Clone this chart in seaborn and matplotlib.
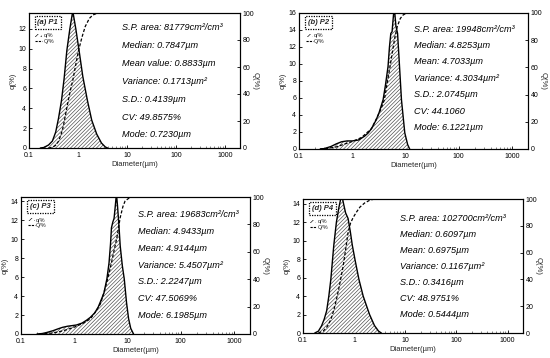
import matplotlib
matplotlib.use("Agg")
import matplotlib.pyplot as plt
import seaborn as sns
import pandas as pd
from matplotlib.patches import Patch
from matplotlib.lines import Line2D
from matplotlib.ticker import LogLocator, FixedLocator, FixedFormatter, NullFormatter

sns.set_theme(style="white")
plt.rcParams['font.family'] = ['Liberation Sans', 'DejaVu Sans']
plt.rcParams['hatch.linewidth'] = 0.45

# ---------------- data ----------------
panel_labels = ["(a) P1", "(b) P2", "(c) P3", "(d) P4"]

d_q_a = [0.17, 0.2, 0.25, 0.3, 0.35, 0.4, 0.46, 0.52, 0.59, 0.68, 0.78, 0.9, 1.05, 1.25, 1.55, 1.9, 2.4, 3.0, 3.6, 4.0]
q_a = [0, 0.05, 0.3, 0.7, 1.6, 3.0, 4.8, 7.0, 9.8, 12.0, 13.8, 12.0, 9.8, 7.2, 4.8, 2.8, 1.4, 0.5, 0.1, 0]
d_Q_a = [0.25, 0.3, 0.35, 0.4, 0.45, 0.5, 0.55, 0.63, 0.7, 0.78, 0.9, 1.02, 1.2, 1.4, 1.7, 2.0, 2.4, 3.0, 2000]
Q_a = [0, 0.5, 2, 5, 10, 16, 24, 35, 43, 50, 62, 72, 82, 90, 96, 98.5, 99.7, 100, 100]

d_q_b = [0.25, 0.3, 0.4, 0.5, 0.63, 0.8, 1.0, 1.3, 1.7, 2.0, 2.3, 2.8, 3.2, 3.55, 3.8, 4.2, 4.7, 5.0, 5.3, 5.6, 5.9, 6.1, 6.3, 6.6, 7.1, 7.6, 8.4, 9.7, 11, 12]
q_b = [0, 0.05, 0.3, 0.6, 0.85, 0.95, 0.95, 1.05, 1.5, 1.9, 2.4, 3.4, 4.3, 5.2, 5.8, 7.5, 9.7, 12.0, 13.6, 13.8, 15.5, 16.5, 16.0, 14.5, 13.6, 10.5, 5.8, 1.9, 0.5, 0]
d_Q_b = [0.25, 0.35, 0.5, 0.7, 1.0, 1.5, 2.3, 3.0, 3.5, 4.0, 4.6, 5.1, 5.6, 6.3, 7.0, 8.0, 9.0, 10.5, 2000]
Q_b = [0, 0.5, 1.5, 3.5, 5.5, 8.5, 15, 24, 30, 36, 50, 60, 70, 82, 90, 96, 98.5, 100, 100]

d_q_c = [0.2, 0.25, 0.3, 0.4, 0.5, 0.6, 0.75, 0.9, 1.1, 1.4, 1.7, 2.0, 2.4, 2.8, 3.1, 3.6, 4.1, 4.5, 4.8, 5.0, 5.3, 5.6, 5.9, 6.2, 6.5, 6.9, 7.3, 8.0, 8.7, 9.6, 10.5, 11.5, 13]
q_c = [0, 0.05, 0.15, 0.35, 0.55, 0.7, 0.82, 0.88, 0.95, 1.15, 1.45, 1.75, 2.2, 2.8, 3.4, 4.3, 5.8, 7.5, 9.5, 11.2, 11.8, 12.2, 13.5, 14.8, 13.5, 11.5, 9.3, 7.2, 5.8, 3.3, 1.6, 0.6, 0]
d_Q_c = [0.22, 0.35, 0.5, 0.7, 1.0, 1.5, 2.0, 2.5, 3.1, 3.6, 4.1, 4.6, 5.0, 5.6, 6.3, 7.3, 8.2, 9.0, 10.5, 12, 2000]
Q_c = [0, 0.5, 1.5, 3, 5, 8, 11, 16, 22, 30, 38, 46, 52, 61, 70, 85, 93, 97, 99, 100, 100]

d_q_d = [0.17, 0.2, 0.23, 0.26, 0.29, 0.32, 0.35, 0.4, 0.45, 0.5, 0.55, 0.58, 0.62, 0.68, 0.76, 0.84, 0.92, 1.05, 1.24, 1.5, 2.0, 2.5, 3.0, 3.4]
q_d = [0, 0.2, 0.76, 1.5, 2.4, 4.0, 5.8, 9.5, 12.0, 13.5, 14.6, 14.8, 14.0, 13.0, 12.4, 11.0, 9.5, 7.8, 5.8, 4.0, 2.0, 0.8, 0.2, 0]
d_Q_d = [0.2, 0.25, 0.3, 0.35, 0.4, 0.45, 0.5, 0.55, 0.61, 0.68, 0.76, 0.85, 0.95, 1.1, 1.3, 1.6, 2.0, 2.5, 2000]
Q_d = [0, 1.5, 5, 10, 17, 25, 33, 41, 50, 62, 75, 82, 86, 90, 94, 97, 99, 100, 100]

stats_a = ["S.P. area: 81779cm²/cm³", "Median: 0.7847µm", "Mean value: 0.8833µm",
           "Variance: 0.1713µm²", "S.D.: 0.4139µm", "CV: 49.8575%", "Mode: 0.7230µm"]
stats_b = ["S.P. area: 19948cm²/cm³", "Median: 4.8253µm", "Mean: 4.7033µm",
           "Variance: 4.3034µm²", "S.D.: 2.0745µm", "CV: 44.1060", "Mode: 6.1221µm"]
stats_c = ["S.P. area: 19683cm²/cm³", "Median: 4.9433µm", "Mean: 4.9144µm",
           "Variance: 5.4507µm²", "S.D.: 2.2247µm", "CV: 47.5069%", "Mode: 6.1985µm"]
stats_d = ["S.P. area: 102700cm²/cm³", "Median: 0.6097µm", "Mean: 0.6975µm",
           "Variance: 0.1167µm²", "S.D.: 0.3416µm", "CV: 48.9751%", "Mode: 0.5444µm"]

xticks = [0.1, 1, 10, 100, 1000]
xtick_labels = ["0.1", "1", "10", "100", "1000"]
ymax_left = [13.6, 16, 14.45, 14.5]
yticks_left = [list(range(0, 13, 2)), list(range(0, 17, 2)), list(range(0, 15, 2)), list(range(0, 15, 2))]
yticks_right = [0, 20, 40, 60, 80, 100]

# ---------------- layout ----------------
W, H = 550, 358
boxes = [(29, 13, 240, 148), (299, 13, 528, 149), (21, 197, 250, 334), (303, 199, 523, 333)]
text_pos = [(0.44, 0.889, 0.132), (0.502, 0.882, 0.121), (0.511, 0.869, 0.122), (0.44, 0.858, 0.12)]

panels = [(d_q_a, q_a, d_Q_a, Q_a, stats_a), (d_q_b, q_b, d_Q_b, Q_b, stats_b),
          (d_q_c, q_c, d_Q_c, Q_c, stats_c), (d_q_d, q_d, d_Q_d, Q_d, stats_d)]

HATCH = '/' * 9

fig = plt.figure(figsize=(5.5, 3.58), dpi=100)
tick_fs = 5
for i, (dq, qv, dQ, Qv, stats) in enumerate(panels):
    x0, y0, x1, y1 = boxes[i]
    ax = fig.add_axes([x0 / W, 1 - y1 / H, (x1 - x0) / W, (y1 - y0) / H])
    ax.set_xscale('log')
    dfq = pd.DataFrame({"d": dq, "q": qv})
    ax.fill_between(dfq["d"], 0, dfq["q"], facecolor='white', edgecolor='#444444',
                    hatch=HATCH, linewidth=0)
    sns.lineplot(data=dfq, x="d", y="q", ax=ax, color='black', lw=1.0,
                 estimator=None, sort=False)
    ax.set_xlim(0.1, 2000)
    ax.set_ylim(0, ymax_left[i])
    ax.set_yticks(yticks_left[i])
    ax.xaxis.set_major_locator(FixedLocator(xticks))
    ax.xaxis.set_major_formatter(FixedFormatter(xtick_labels))
    ax.xaxis.set_minor_locator(LogLocator(base=10, subs=range(2, 10), numticks=20))
    ax.xaxis.set_minor_formatter(NullFormatter())
    ax.tick_params(axis='y', which='major', direction='in', length=2.5, width=0.6,
                   labelsize=tick_fs, pad=2, colors='black', left=True)
    ax.tick_params(axis='x', which='major', direction='in', length=2.5, width=0.6,
                   labelsize=tick_fs, pad=3, colors='black', bottom=True)
    ax.tick_params(axis='x', which='minor', direction='in', length=1.3, width=0.4, bottom=True)
    ax.set_xlabel("Diameter(µm)", fontsize=5.5, labelpad=1)
    ax.set_ylabel("q(%)", fontsize=5.5, labelpad=1)
    for s in ax.spines.values():
        s.set_color('black')
        s.set_linewidth(0.8)

    ax2 = ax.twinx()
    dfQ = pd.DataFrame({"d": dQ, "Q": Qv})
    sns.lineplot(data=dfQ, x="d", y="Q", ax=ax2, color='black', lw=0.9,
                 estimator=None, sort=False, dashes=False)
    ax2.lines[0].set_dashes([2.5, 1.5])
    ax2.set_ylim(0, 100)
    ax2.set_xlim(0.1, 2000)
    ax2.set_yticks(yticks_right)
    ax2.tick_params(axis='y', direction='in', length=2.5, width=0.6, labelsize=tick_fs,
                    pad=2, colors='black', right=True)
    ax2.set_ylabel("Q(%)", fontsize=5.5, rotation=270, labelpad=3)
    for s in ax2.spines.values():
        s.set_color('black')
        s.set_linewidth(0.8)

    # panel label box
    ax.text(0.04, 0.955, panel_labels[i], transform=ax.transAxes, fontsize=5.5,
            fontweight='bold', fontstyle='italic', va='top', ha='left',
            bbox=dict(boxstyle='square,pad=0.35', fc='white', ec='black', ls=(0, (1, 1)), lw=0.9))
    handles = [Patch(facecolor='white', edgecolor='black', hatch='//////', lw=0),
               Line2D([0], [0], color='black', lw=0.8, ls=(0, (2, 1)))]
    ax.legend(handles, ["q/%", "Q/%"], loc='upper left', bbox_to_anchor=(0.03, 0.85),
              frameon=False, fontsize=4, handlelength=1.2, handleheight=0.5,
              handletextpad=0.3, labelspacing=0.1, borderaxespad=0, borderpad=0)

    tx, ty, step = text_pos[i]
    for k, s in enumerate(stats):
        ax.text(tx, ty - k * step, s, transform=ax.transAxes, fontsize=6.6,
                fontstyle='italic', va='center', ha='left', color='black')

fig.savefig("out.png", dpi=100)
